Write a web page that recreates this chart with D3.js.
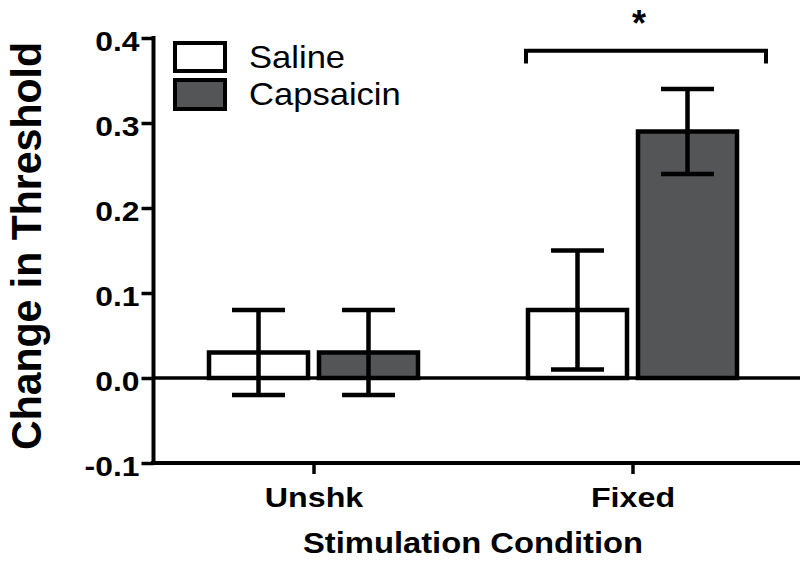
<!DOCTYPE html>
<html>
<head>
<meta charset="utf-8">
<script src="https://cdn.jsdelivr.net/npm/d3@7"></script>
<style>
  html, body { margin: 0; padding: 0; background: #fff; }
  svg { display: block; }
  text { font-family: "Liberation Sans", Arial, sans-serif; fill: #000; }
</style>
</head>
<body>
<svg id="chart" width="800" height="565"></svg>
<script>
// ---- data ----
const categories = ["Unshk", "Fixed"];
const series = ["Saline", "Capsaicin"];
const salineMean = [0.03, 0.08];
const salineErrLow = [-0.02, 0.01];
const salineErrHigh = [0.08, 0.15];
const capsaicinMean = [0.03, 0.29];
const capsaicinErrLow = [-0.02, 0.24];
const capsaicinErrHigh = [0.08, 0.34];
const yTickValues = [-0.1, 0.0, 0.1, 0.2, 0.3, 0.4];
const yTickLabels = ["-0.1", "0.0", "0.1", "0.2", "0.3", "0.4"];
const seriesColors = ["#ffffff", "#545557"];
const sigLabel = "*";
const sigLevelTop = 0.385;
const sigLevelDrop = 0.37;

(function () {
const rows = [];
categories.forEach((c, i) => {
  rows.push({cat: c, s: "Saline", v: salineMean[i], lo: salineErrLow[i], hi: salineErrHigh[i]});
  rows.push({cat: c, s: "Capsaicin", v: capsaicinMean[i], lo: capsaicinErrLow[i], hi: capsaicinErrHigh[i]});
});

const svg = d3.select("#chart");
const pLeft = 154, pRight = 792, pTop = 38, pBottom = 463;

const x0 = d3.scalePoint().domain(categories).range([pLeft, pRight]).padding(0.5);
const x1 = d3.scaleBand().domain(series).range([-104.5, 104.5]).paddingInner(0.1);
const y = d3.scaleLinear().domain([-0.1, 0.4]).range([pBottom, pTop]);
const color = d3.scaleOrdinal().domain(series).range(seriesColors);

// zero line
svg.append("line")
  .attr("x1", pLeft - 1).attr("x2", 800)
  .attr("y1", y(0)).attr("y2", y(0))
  .attr("stroke", "#000").attr("stroke-width", 3.5);

// bars
svg.append("g").selectAll("rect").data(rows).join("rect")
  .attr("x", d => x0(d.cat) + x1(d.s))
  .attr("width", x1.bandwidth())
  .attr("y", d => y(Math.max(0, d.v)))
  .attr("height", d => Math.abs(y(d.v) - y(0)))
  .attr("fill", d => color(d.s))
  .attr("stroke", "#000").attr("stroke-width", 4.5);

// error bars
const capHalf = 26.5;
const eb = svg.append("g").attr("stroke", "#000").attr("stroke-width", 4.5);
rows.forEach(d => {
  const cx = x0(d.cat) + x1(d.s) + x1.bandwidth() / 2;
  eb.append("line").attr("x1", cx).attr("x2", cx).attr("y1", y(d.lo)).attr("y2", y(d.hi));
  eb.append("line").attr("x1", cx - capHalf).attr("x2", cx + capHalf).attr("y1", y(d.hi)).attr("y2", y(d.hi));
  eb.append("line").attr("x1", cx - capHalf).attr("x2", cx + capHalf).attr("y1", y(d.lo)).attr("y2", y(d.lo));
});

// stretch helper
function stretch(sel, f) {
  sel.each(function() {
    const w = this.getComputedTextLength();
    d3.select(this).attr("textLength", w * f).attr("lengthAdjust", "spacingAndGlyphs");
  });
}

// y axis
const yAxis = d3.axisLeft(y).tickValues(yTickValues)
  .tickFormat((d, i) => yTickLabels[i]).tickSize(12).tickPadding(2).tickSizeOuter(0);
const gy = svg.append("g").attr("transform", `translate(${pLeft - 0.5},0)`).call(yAxis);
gy.select(".domain").attr("stroke-width", 4).attr("d", `M0,${pTop - 2}V${pBottom + 2}`);
gy.selectAll(".tick line").attr("stroke-width", 3.5);
gy.selectAll(".tick text")
  .style("font-family", '"Liberation Sans", Arial, sans-serif')
  .style("font-weight", "bold").style("font-size", "27px")
  .attr("dy", "0.48em").attr("x", -14);
stretch(gy.selectAll(".tick text"), 1.18);

// x axis
const xAxis = d3.axisBottom(x0).tickSize(11).tickPadding(13).tickSizeOuter(0);
const gx = svg.append("g").attr("transform", `translate(0,${pBottom})`).call(xAxis);
gx.select(".domain").attr("stroke-width", 4).attr("d", `M${pLeft - 3},0H800`);
gx.selectAll(".tick line").attr("stroke-width", 3.5);
gx.selectAll(".tick text")
  .style("font-family", '"Liberation Sans", Arial, sans-serif')
  .style("font-weight", "bold").style("font-size", "28px");
stretch(gx.selectAll(".tick text"), 1.15);

// axis titles
svg.append("text")
  .attr("transform", `translate(41,246) rotate(-90)`)
  .attr("text-anchor", "middle")
  .style("font-weight", "bold").style("font-size", "42px")
  .attr("textLength", 408).attr("lengthAdjust", "spacingAndGlyphs")
  .text("Change in Threshold");

svg.append("text")
  .attr("x", (x0(categories[0]) + x0(categories[1])) / 2).attr("y", 553)
  .attr("text-anchor", "middle")
  .style("font-weight", "bold").style("font-size", "29px")
  .attr("textLength", 340).attr("lengthAdjust", "spacingAndGlyphs")
  .text("Stimulation Condition");

// legend
const legY = [43, 80];
const legH = [28, 29];
const leg = svg.append("g");
series.forEach((s, i) => {
  leg.append("rect").attr("x", 175).attr("y", legY[i]).attr("width", 50).attr("height", legH[i])
    .attr("fill", color(s)).attr("stroke", "#000").attr("stroke-width", 4);
  const t = leg.append("text").attr("x", 249).attr("y", legY[i] + 25)
    .style("font-size", "32px").text(s);
  stretch(t, 1.08);
});

// significance bracket
const fx = x0("Fixed");
const bx1 = fx + x1("Saline") - 2;
const bx2 = fx + x1("Capsaicin") + x1.bandwidth() + 29;
svg.append("path")
  .attr("d", `M${bx1},${y(sigLevelDrop)}V${y(sigLevelTop)}H${bx2}V${y(sigLevelDrop)}`)
  .attr("fill", "none").attr("stroke", "#000").attr("stroke-width", 4);
svg.append("text")
  .attr("x", fx + x1("Capsaicin") + 1).attr("y", 36)
  .attr("text-anchor", "middle")
  .style("font-weight", "bold").style("font-size", "36px")
  .text(sigLabel);
})();
</script>
</body>
</html>
